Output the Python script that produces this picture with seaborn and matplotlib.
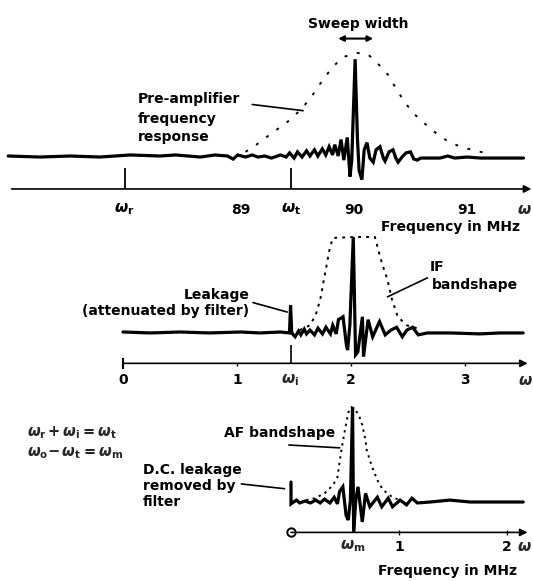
import matplotlib
matplotlib.use("Agg")
import matplotlib.pyplot as plt
import numpy as np
import pandas as pd
import seaborn as sns

# ---------------- data (frequency in MHz, relative amplitude) ----------------
# Panel 1: RF spectrum around 90 MHz
p1_freq = [86.94, 87.22, 87.49, 87.75, 88.02, 88.28, 88.42, 88.64, 88.77, 88.88,
           88.93, 88.97, 89.04, 89.10, 89.15, 89.21, 89.27, 89.35, 89.40, 89.43,
           89.47, 89.50, 89.54, 89.58, 89.61, 89.65, 89.68, 89.72, 89.75, 89.78,
           89.81, 89.83, 89.86, 89.885, 89.91, 89.94, 89.965, 89.98, 90.01, 90.03,
           90.045, 90.07, 90.09, 90.115, 90.14, 90.17, 90.195, 90.23, 90.26, 90.275,
           90.31, 90.345, 90.37, 90.39, 90.425, 90.46, 90.50, 90.53, 90.56, 90.59,
           90.67, 90.76, 90.83, 90.89, 91.00, 91.12, 91.29, 91.50]
p1_amp = [0, -1, 0, -1, 1, 0, 1, -1, 1, 0,
          -3, 1, -1, 1, -1, 0, -2, 1, -1, 3,
          -2, 4, -1, 5, 0, 6, 0, 7, 1, 9,
          1, 11, 0, 16, -4, 18, -20, -4, 94, 18,
          -14, -23, 6, 13, -2, -6, 6, 9, -2, -5,
          4, 6, -2, -6, -1, 3, 4, -3, -4, -2,
          -2, -2, 0, -2, -1, -2, -2, -2]
p1_env_freq = [89.04, 89.15, 89.27, 89.41, 89.53, 89.62, 89.70, 89.80, 89.90, 90.03,
               90.12, 90.20, 90.30, 90.38, 90.45, 90.53, 90.63, 90.75, 90.85, 90.97, 91.16]
p1_env_amp = [4, 12, 22, 33, 45, 57, 70, 85, 96, 100,
              99, 91, 79, 64, 52, 41, 31, 20, 13, 8, 3]
p1_tick_vals = [89, 90, 91]
p1_tick_labels = ["89", "90", "91"]
p1_marker_vals = [87.97, 89.44]
p1_marker_labels = [r"$\boldsymbol{\omega}_\mathbf{r}$", r"$\boldsymbol{\omega}_\mathbf{t}$"]

# Panel 2: IF spectrum around 2 MHz
p2_freq = [0.00, 0.24, 0.50, 0.76, 1.03, 1.20, 1.38, 1.46, 1.47, 1.48,
           1.51, 1.54, 1.56, 1.59, 1.61, 1.64, 1.68, 1.71, 1.75, 1.78,
           1.82, 1.84, 1.87, 1.89, 1.93, 1.96, 1.97, 1.99, 2.02, 2.04,
           2.06, 2.10, 2.11, 2.15, 2.19, 2.25, 2.30, 2.35, 2.40, 2.45,
           2.49, 2.54, 2.59, 2.67, 2.87, 3.13, 3.31, 3.51]
p2_amp = [0, -1, 0, -1, 0, -1, 0, -1, 28, -1,
          -5, 1, -3, 3, -2, 2, -3, 4, -2, 5,
          -2, 7, -2, 13, 16, -14, -19, 7, 100, -24,
          -21, 16, -26, 13, -5, 11, -3, 2, 5, -5,
          2, 5, -3, -1, -1, -2, -1, -1]
p2_env_freq = [1.55, 1.64, 1.69, 1.73, 1.75, 1.79, 1.81, 1.84, 2.03, 2.21,
               2.24, 2.27, 2.32, 2.36, 2.41, 2.49, 2.58]
p2_env_amp = [2, 7, 18, 34, 47, 73, 86, 99, 100, 100,
              86, 73, 55, 34, 16, 7, 4]
p2_tick_vals = [0, 1, 2, 3]
p2_tick_labels = ["0", "1", "2", "3"]
p2_marker_vals = [1.47]
p2_marker_labels = [r"$\boldsymbol{\omega}_\mathbf{i}$"]

# Panel 3: AF spectrum
p3_freq = [0.00, 0.00, 0.05, 0.08, 0.13, 0.18, 0.23, 0.27, 0.31, 0.36,
           0.40, 0.43, 0.45, 0.48, 0.51, 0.53, 0.55, 0.57, 0.58, 0.60,
           0.62, 0.66, 0.69, 0.73, 0.80, 0.84, 0.90, 0.94, 1.01, 1.07,
           1.12, 1.17, 1.29, 1.47, 1.66, 1.94, 2.15]
p3_amp = [21, -2, 2, -1, 1, -1, 2, -1, 3, -1,
          5, -2, 11, 16, -14, -19, 2, 100, -31, 2,
          16, -21, 9, -5, 5, -5, 4, -5, 2, -3,
          4, -1, 0, 2, 0, 0, 0]
p3_env_freq = [0.14, 0.22, 0.31, 0.39, 0.43, 0.45, 0.47, 0.50, 0.53, 0.56,
               0.59, 0.63, 0.66, 0.69, 0.70, 0.75, 0.80, 0.85, 0.94, 1.01]
p3_env_amp = [2, 4, 9, 18, 26, 42, 57, 76, 94, 100,
              98, 91, 81, 65, 55, 37, 23, 13, 5, 2]
p3_tick_vals = [1, 2]
p3_tick_labels = ["1", "2"]
p3_marker_vals = [0.57]
p3_marker_labels = [r"$\boldsymbol{\omega}_\mathbf{m}$"]

equations = [r"$\boldsymbol{\omega}_\mathbf{r}\,\mathbf{+}\,\boldsymbol{\omega}_\mathbf{i}\mathbf{=}\boldsymbol{\omega}_\mathbf{t}$",
             r"$\boldsymbol{\omega}_\mathbf{o}\mathbf{-}\,\boldsymbol{\omega}_\mathbf{t}\mathbf{=}\boldsymbol{\omega}_\mathbf{m}$"]

# ---------------- figure ----------------
sns.set_theme(style="white")
plt.rcParams["font.family"] = ["DejaVu Sans"]
plt.rcParams["mathtext.fontset"] = "dejavusans"

W, H = 533, 581
fig = plt.figure(figsize=(W / 100, H / 100), dpi=100)
fig.patch.set_facecolor("white")

TXT = dict(fontsize=10, fontweight="bold", color="black")
TRACE_LW = 2.3
AX_LW = 1.2


def panel(px0, f0, px_per_mhz, py0, px_per_unit):
    ax = fig.add_axes([0, 0, 1, 1])
    ax.set_xlim(f0 - px0 / px_per_mhz, f0 + (W - px0) / px_per_mhz)
    ax.set_ylim(-(H - py0) / px_per_unit, py0 / px_per_unit)
    ax.axis("off")
    ax.patch.set_alpha(0)
    return ax


def trace(ax, f, a):
    sns.lineplot(x=f, y=a, ax=ax, color="black", linewidth=TRACE_LW,
                 estimator=None, sort=False, solid_joinstyle="miter")


def envelope(ax, f, a, dash):
    sns.lineplot(x=f, y=a, ax=ax, color="black", linewidth=1.4,
                 estimator=None, sort=False, linestyle=(0, dash))


def axis_arrow(ax, x0, x1, y):
    ax.annotate("", xy=(x1, y), xytext=(x0, y),
                arrowprops=dict(arrowstyle="-|>", lw=AX_LW, color="black",
                                mutation_scale=11, shrinkA=0, shrinkB=0))


def leader(ax, x0, y0, x1, y1):
    ax.plot([x0, x1], [y0, y1], color="black", lw=1.2)


# ----- Panel 1 -----
ax1 = panel(354, 90.0, 113, 156, 1.03)
envelope(ax1, p1_env_freq, p1_env_amp, (1.5, 5.0))
trace(ax1, p1_freq, p1_amp)
axis_arrow(ax1, 86.97, 91.57, -32)
ax1.vlines(p1_marker_vals, -12, -32, color="black", lw=1.3)
for v, lab in zip(p1_tick_vals, p1_tick_labels):
    ax1.text(v, -52, lab, ha="center", va="center", **TXT)
for v, lab in zip(p1_marker_vals, p1_marker_labels):
    ax1.text(v, -52, lab, ha="center", va="center", fontsize=11, color="black")
ax1.text(91.51, -52, r"$\boldsymbol{\omega}$", ha="center", va="center", fontsize=11)
ax1.text(91.47, -69, "Frequency in MHz", ha="right", va="center", **TXT)
ax1.text(90.035, 128, "Sweep width", ha="center", va="center", **TXT)
ax1.annotate("", xy=(90.17, 114), xytext=(89.86, 114),
             arrowprops=dict(arrowstyle="<|-|>", lw=1.5, color="black",
                             mutation_scale=8, shrinkA=0, shrinkB=0))
for yy, s in zip([55, 36, 18], ["Pre-amplifier", "frequency", "response"]):
    ax1.text(88.09, yy, s, ha="left", va="center", **TXT)
leader(ax1, 89.10, 50, 89.55, 44)

# ----- Panel 2 -----
ax2 = panel(123, 0.0, 114, 332, 0.95)
envelope(ax2, p2_env_freq, p2_env_amp, (1.5, 2.6))
trace(ax2, p2_freq, p2_amp)
axis_arrow(ax2, 0.0, 3.55, -33)
ax2.vlines([0.0], -39, -27, color="black", lw=1.5)
ax2.vlines(p2_marker_vals, -14, -33, color="black", lw=1.2)
ax2.vlines(p2_tick_vals[1:], -33, -36, color="black", lw=1.0)
for v, lab in zip(p2_tick_vals, p2_tick_labels):
    ax2.text(v, -51, lab, ha="center", va="center", **TXT)
for v, lab in zip(p2_marker_vals, p2_marker_labels):
    ax2.text(v, -51, lab, ha="center", va="center", fontsize=11)
ax2.text(3.53, -51, r"$\boldsymbol{\omega}$", ha="center", va="center", fontsize=11)
ax2.text(2.69, 68, "IF", ha="left", va="center", **TXT)
ax2.text(2.71, 49, "bandshape", ha="left", va="center", **TXT)
leader(ax2, 2.67, 57, 2.32, 37)
ax2.text(1.11, 39, "Leakage", ha="right", va="center", **TXT)
ax2.text(1.11, 22, "(attenuated by filter)", ha="right", va="center", **TXT)
leader(ax2, 1.14, 31, 1.44, 21)

# ----- Panel 3 -----
ax3 = panel(291, 0.0, 108, 502, 0.95)
envelope(ax3, p3_env_freq, p3_env_amp, (1.2, 2.2))
trace(ax3, p3_freq, p3_amp)
axis_arrow(ax3, 0.0, 2.19, -32)
ax3.plot([0.0], [-32], marker="o", ms=6, mfc="white", mec="black", mew=1.4)
ax3.vlines(p3_tick_vals, -29, -35, color="black", lw=1.0)
for v, lab in zip(p3_tick_vals, p3_tick_labels):
    ax3.text(v, -47, lab, ha="center", va="center", **TXT)
for v, lab in zip(p3_marker_vals, p3_marker_labels):
    ax3.text(v, -47, lab, ha="center", va="center", fontsize=11)
ax3.text(2.16, -47, r"$\boldsymbol{\omega}$", ha="center", va="center", fontsize=11)
ax3.text(2.09, -73, "Frequency in MHz", ha="right", va="center", **TXT)
ax3.text(0.41, 73, "AF bandshape", ha="right", va="center", **TXT)
leader(ax3, -0.02, 60, 0.45, 57)
for yy, s in zip([34, 17, 0], ["D.C. leakage", "removed by", "filter"]):
    ax3.text(-1.37, yy, s, ha="left", va="center", **TXT)
leader(ax3, -0.46, 19, -0.06, 14)

# equations
for yy, s in zip([433, 453], equations):
    fig.text(27 / W, 1 - yy / H, s, ha="left", va="center", fontsize=10.5)

fig.savefig("out.png", dpi=100, facecolor="white")
